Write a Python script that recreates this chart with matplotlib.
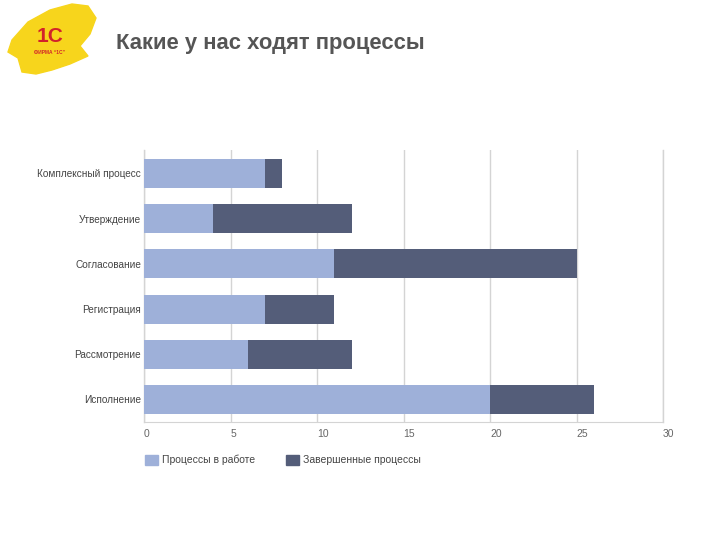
import matplotlib
matplotlib.use("Agg")
import matplotlib.pyplot as plt
from matplotlib.patches import Polygon, Patch

# data
categories = ["Комплексный процесс", "Утверждение", "Согласование",
              "Регистрация", "Рассмотрение", "Исполнение"]
in_work = [7, 4, 11, 7, 6, 20]
finished = [1, 8, 14, 4, 6, 6]
xticks = [0, 5, 10, 15, 20, 25, 30]
series_names = ["Процессы в работе", "Завершенные процессы"]

light = "#9eb0d9"
dark = "#545d79"
grid = "#d4d4d4"

plt.rcParams['font.family'] = ['Liberation Sans', 'DejaVu Sans']

fig = plt.figure(figsize=(7.2, 5.4), dpi=100)
ax = fig.add_axes([0.2, 1 - 422 / 540, (663 - 144) / 720, 272 / 540])

y = list(range(len(categories)))
ax.barh(y, in_work, height=0.64, color=light, zorder=2)
ax.barh(y, finished, left=in_work, height=0.64, color=dark, zorder=2)

ax.set_xlim(0, 30)
ax.set_ylim(5.5, -0.52)
ax.set_yticks(y)
ax.set_yticklabels(categories, fontsize=7.2, color="#444444")
ax.set_xticks(xticks)
ax.set_xticklabels([str(t) for t in xticks], fontsize=7.5, color="#666666",
                   ha="left")
ax.tick_params(axis="y", length=0, pad=2)
ax.tick_params(axis="x", length=0, pad=5)
ax.grid(axis="x", color=grid, linewidth=1, zorder=0)
for s in ["top", "left", "right"]:
    ax.spines[s].set_visible(False)
ax.spines["bottom"].set_color(grid)
ax.axvline(0, color=grid, linewidth=1, zorder=0, clip_on=False)
ax.axvline(30, color=grid, linewidth=1, zorder=0, clip_on=False)

handles = [Patch(color=light), Patch(color=dark)]
fig.legend(handles, series_names, loc="center left",
           bbox_to_anchor=(136 / 720, 1 - 460 / 540), ncol=2, frameon=False,
           fontsize=7.5, handlelength=1.2, handleheight=1.2,
           handletextpad=0.4, columnspacing=3.0, labelcolor="#444444")

# title
fig.text(116 / 720, 1 - 44 / 540, "Какие у нас ходят процессы",
         fontsize=15.8, fontweight="bold", color="#555555", va="center")

# logo: yellow brush blob with the 1С mark
blob = [(12, 40), (28, 22), (50, 10), (72, 4), (88, 6), (96, 18),
        (90, 34), (80, 46), (88, 56), (70, 64), (52, 70), (36, 74),
        (22, 72), (18, 58), (8, 52)]
logo = Polygon([(px / 720, 1 - py / 540) for px, py in blob],
               closed=True, transform=fig.transFigure, color="#f7d51c",
               zorder=0)
fig.patches.append(logo)
fig.text(50 / 720, 1 - 36 / 540, "1С", fontsize=15, fontweight="bold",
         color="#d2232a", ha="center", va="center")
fig.text(50 / 720, 1 - 52 / 540, "ФИРМА “1С”", fontsize=3.5,
         fontweight="bold", color="#d2232a", ha="center", va="center")

fig.savefig("out.png", dpi=100)
